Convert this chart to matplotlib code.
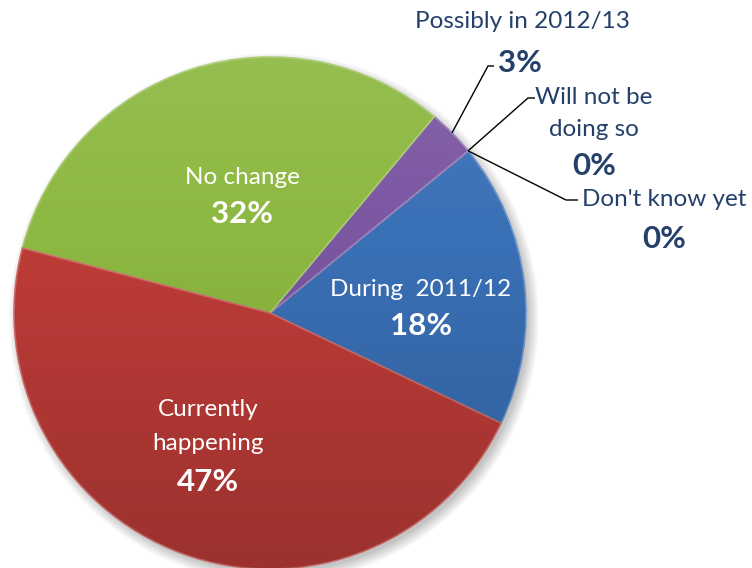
import numpy as np
import matplotlib.pyplot as plt
from matplotlib.patches import Circle
from matplotlib.colors import to_rgb

# survey answers, counter-clockwise from the lower right
labels = ["During  2011/12", "Don't know yet", "Will not be\ndoing so",
          "Possibly in 2012/13", "No change", "Currently\nhappening"]
shares = [18, 0, 0, 3, 32, 47]
colors = ["#3a70b6", "#3a70b6", "#7b57a2", "#7b57a2", "#8db841", "#be3c38"]

plt.rcParams['font.family'] = ['Lato', 'DejaVu Sans']
navy = "#24406a"

fig = plt.figure(figsize=(7.52, 5.68), dpi=100)
ax = fig.add_axes([0, 0, 1, 1])

cx, cy, r = 270, 255, 256

# soft drop shadow under the pie
for k in range(12):
    ax.add_patch(Circle((cx + 4, cy - 5), r + 9 - k, color='k', alpha=0.018, lw=0, zorder=0))

def lighten(c, f):
    c = np.array(to_rgb(c))
    return tuple(c + (1 - c) * f)

wedges, _ = ax.pie(shares, colors=colors, startangle=-25.5, counterclock=True,
                   center=(cx, cy), radius=r,
                   wedgeprops=dict(linewidth=1.2))
for w, c in zip(wedges, colors):
    w.set_edgecolor(lighten(c, 0.25))
    w.set_zorder(1)

# top-lit shading over the whole pie
n = 256
t = np.linspace(0, 1, n)
img = np.zeros((n, 1, 4))
img[:, 0, :3] = np.where(t < 0.35, 1.0, 0.0)[:, None]
img[:, 0, 3] = np.where(t < 0.35, 0.08 * (0.35 - t) / 0.35, 0.18 * (t - 0.35) / 0.65)
im = ax.imshow(img, extent=(cx - r, cx + r, cy - r, cy + r), origin='upper',
               aspect='auto', zorder=2, interpolation='bilinear')
im.set_clip_path(Circle((cx, cy), r, transform=ax.transData))

# labels inside the big slices (pixel positions measured from the top)
H = 568
inside = {
    0: (421, [290], 326),
    4: (242, [177], 214),
    5: (208, [410, 443], 482),
}
for i, (x, ys, yp) in inside.items():
    for line, y in zip(labels[i].split("\n"), ys):
        ax.text(x, H - y, line, color='white', fontsize=17.5, ha='center', va='center', zorder=5)
    ax.text(x, H - yp, f"{shares[i]}%", color='white', fontsize=22.5, fontweight='bold',
            ha='center', va='center', zorder=5)

# outside labels with leader lines: (text x, line ys, pct y, elbow, line end)
outside = {
    3: (522, [22], 63, (488, 66), (494, 66), 'mid'),
    2: (594, [97, 129], 166, (528, 98), (535, 98), 'edge'),
    1: (664, [199], 239, (566, 200), (578, 200), 'edge'),
}
for i, (x, ys, yp, elbow, end, where) in outside.items():
    w = wedges[i]
    ang = np.deg2rad((w.theta1 + w.theta2) / 2 if where == 'mid' else w.theta1)
    px, py = cx + r * np.cos(ang), cy + r * np.sin(ang)
    ax.plot([px, elbow[0], end[0]], [py, H - elbow[1], H - end[1]],
            color='black', lw=1, zorder=4, solid_capstyle='butt')
    for line, y in zip(labels[i].split("\n"), ys):
        ax.text(x, H - y, line, color=navy, fontsize=17.5, ha='center', va='center', zorder=5)
    ax.text(x if i != 3 else 520, H - yp, f"{shares[i]}%", color=navy, fontsize=22.5,
            fontweight='bold', ha='center', va='center', zorder=5)

ax.set_xlim(0, 752)
ax.set_ylim(0, H)
ax.set_aspect('equal')
ax.axis('off')

fig.savefig("out.png", dpi=100, facecolor='white')
